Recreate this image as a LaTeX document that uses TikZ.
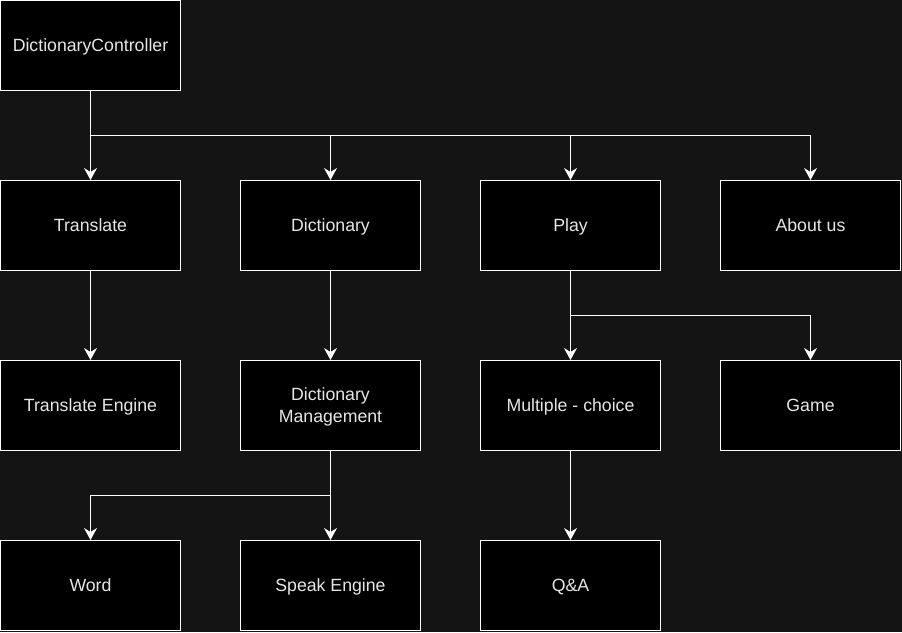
\documentclass[tikz,border=0pt]{standalone}
\usepackage{fontspec}
\setmainfont{Liberation Sans}
\usetikzlibrary{arrows.meta}
\definecolor{bg}{HTML}{141414}
\definecolor{txt}{HTML}{E6E6E6}
\newcommand{\vst}{\vrule height 17pt depth 4.4pt width 0pt}
\begin{document}
\begin{tikzpicture}[x=1pt,y=-1pt,
  box/.style={draw=white,line width=1pt,fill=black,text=txt,minimum width=180pt,minimum height=90pt,inner sep=0pt,align=center,font=\fontsize{17.7}{22}\selectfont},
  conn/.style={draw=white,line width=1pt,-{Stealth[length=12pt,width=13pt,inset=4pt]}},
  seg/.style={draw=white,line width=1pt}]
\fill[bg] (0,0) rectangle (902,632);
\useasboundingbox (0,0) rectangle (902,632);
\node[box] (dc) at (90.5,45.5) {\vst DictionaryController};
\node[box] (tr) at (90.5,225.5) {\vst Translate};
\node[box] (di) at (330.5,225.5) {\vst Dictionary};
\node[box] (pl) at (570.5,225.5) {\vst Play};
\node[box] (ab) at (810.5,225.5) {\vst About us};
\node[box] (te) at (90.5,405.5) {\vst Translate Engine};
\node[box] (dm) at (330.5,405.5) {\vst Dictionary\\\vst Management};
\node[box] (mc) at (570.5,405.5) {\vst Multiple - choice};
\node[box] (ga) at (810.5,405.5) {\vst Game};
\node[box] (wo) at (90.5,585.5) {\vst Word};
\node[box] (se) at (330.5,585.5) {\vst Speak Engine};
\node[box] (qa) at (570.5,585.5) {\vst Q\&A};
\coordinate (j1) at (90.5,135.5);
\coordinate (j2) at (570.5,315.5);
\coordinate (j3) at (330.5,495.5);
\draw[seg] (dc.south) -- (j1);
\draw[conn] (j1) -- (tr.north);
\draw[conn] (j1) -| (di.north);
\draw[conn] (j1) -| (pl.north);
\draw[conn] (j1) -| (ab.north);
\draw[conn] (tr) -- (te);
\draw[conn] (di) -- (dm);
\draw[seg] (pl.south) -- (j2);
\draw[conn] (j2) -- (mc.north);
\draw[conn] (j2) -| (ga.north);
\draw[seg] (dm.south) -- (j3);
\draw[conn] (j3) -- (se.north);
\draw[conn] (j3) -| (wo.north);
\draw[conn] (mc) -- (qa);
\end{tikzpicture}
\end{document}
